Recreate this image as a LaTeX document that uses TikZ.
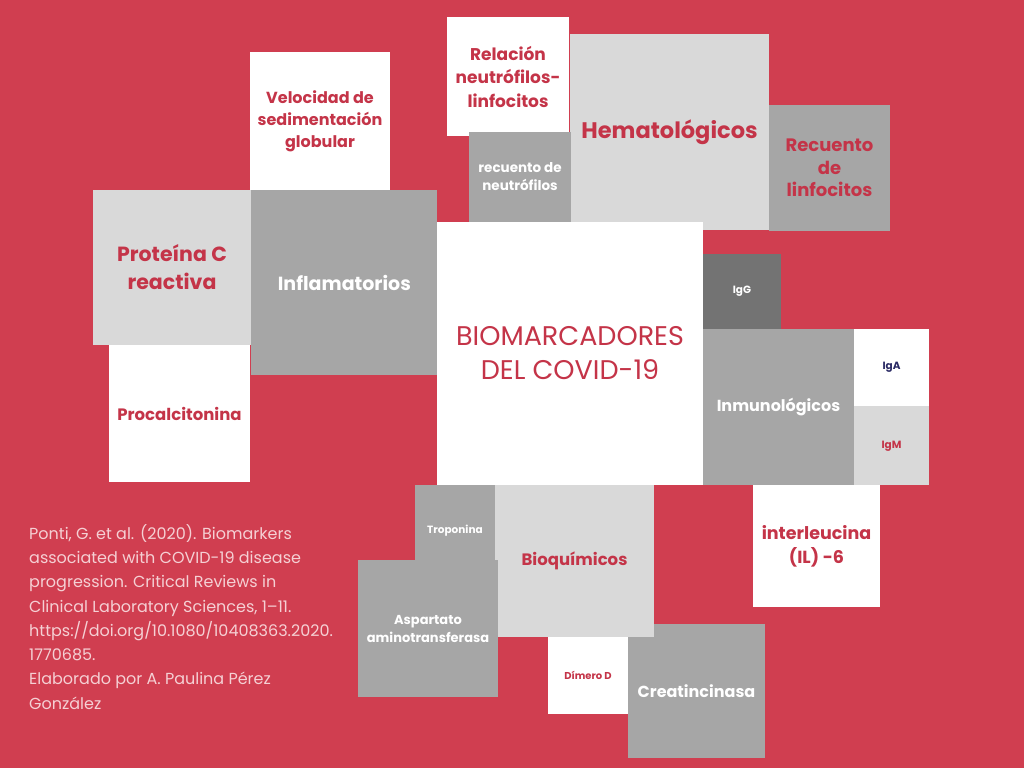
\documentclass[tikz,border=0pt]{standalone}
\usepackage{fontspec}
\setmainfont{Poppins}
\definecolor{bgred}{RGB}{208, 62, 80}
\definecolor{txtred}{RGB}{196, 52, 72}
\definecolor{tilelight}{RGB}{217, 217, 217}
\definecolor{tilemid}{RGB}{166, 166, 166}
\definecolor{tiledark}{RGB}{115, 115, 115}
\definecolor{navy}{RGB}{42, 42, 100}
\definecolor{notepink}{RGB}{245, 208, 212}
\usetikzlibrary{positioning}
\newcommand{\fsz}[2]{\fontsize{#1}{#2}\selectfont}
\tikzset{
	tile/.style={rectangle, inner sep=0pt, align=center},
	whitetile/.style={tile, fill=white, text=txtred},
	lighttile/.style={tile, fill=tilelight, text=txtred},
	midtile/.style={tile, fill=tilemid, text=white},
	darktile/.style={tile, fill=tiledark, text=white},
}

\begin{document}
\begin{tikzpicture}[x=1pt, y=-1pt]
		\useasboundingbox[fill=bgred] (0,0) rectangle (1024,768);
		% inflamatorios
		\node[whitetile, minimum width=140pt, minimum height=138pt, font=\bfseries\fsz{16}{22}] (velocidad) at (320,121) {Velocidad de\\sedimentación\\globular};
		\node[lighttile, minimum width=158pt, minimum height=155pt, font=\bfseries\fsz{20.5}{28}] (proteina) at (172,267.5) {Proteína C\\reactiva};
		\node[midtile, minimum width=186pt, minimum height=185pt, font=\bfseries\fsz{19}{22}, below right=0pt and 0pt of proteina.north east] (inflam) {Inflamatorios};
		\node[whitetile, minimum width=141pt, minimum height=137pt, font=\bfseries\fsz{16.5}{20}] (procal) at (179.5,413.5) {Procalcitonina};
		% hematologicos
		\node[whitetile, minimum width=122pt, minimum height=119pt, font=\bfseries\fsz{17}{23.5}] (relacion) at (508,76.5) {Relación\\neutrófilos-\\linfocitos};
		\node[lighttile, minimum width=199pt, minimum height=196pt, font=\bfseries\fsz{22.5}{26}] (hemato) at (669.5,132) {Hematológicos};
		\node[midtile, minimum width=102pt, minimum height=90pt, font=\bfseries\fsz{13.5}{18}] (neutro) at (520,177) {recuento de\\neutrófilos};
		\node[midtile, text=txtred, minimum width=121pt, minimum height=126pt, font=\bfseries\fsz{18}{22.5}] (linfo) at (829.5,168) {Recuento\\de\\linfocitos};
		% centro
		\node[whitetile, minimum width=266pt, minimum height=263pt, font=\fsz{27}{34}] (centro) at (570,353.5) {BIOMARCADORES\\DEL COVID-19};
		% inmunologicos
		\node[darktile, minimum width=78pt, minimum height=75pt, font=\bfseries\fsz{10.5}{12}] (igg) at (742,291.5) {IgG};
		\node[midtile, minimum width=151pt, minimum height=156pt, font=\bfseries\fsz{16}{20}] (inmuno) at (778.5,407) {Inmunológicos};
		\node[whitetile, text=navy, minimum width=75pt, minimum height=77pt, font=\bfseries\fsz{10.5}{12}] (iga) at (891.5,367.5) {IgA};
		\node[lighttile, minimum width=75pt, minimum height=79pt, font=\bfseries\fsz{10.5}{12}, below=0pt of iga] (igm) {IgM};
		\node[whitetile, minimum width=127pt, minimum height=122pt, font=\bfseries\fsz{17.5}{24}] (interleucina) at (816.5,546) {interleucina\\(IL) -6};
		% bioquimicos
		\node[midtile, minimum width=137pt, minimum height=134pt, font=\bfseries\fsz{16}{20}] (creatin) at (696.5,691) {Creatincinasa};
		\node[midtile, minimum width=80pt, minimum height=92pt, font=\bfseries\fsz{10.5}{12}] (troponina) at (455,531) {Troponina};
		\node[lighttile, minimum width=159pt, minimum height=152pt, font=\bfseries\fsz{16.5}{20}] (bioq) at (574.5,561) {Bioquímicos};
		\node[midtile, minimum width=140pt, minimum height=137pt, font=\bfseries\fsz{13}{18}] (aspartato) at (428,628.5) {Aspartato\\aminotransferasa};
		\node[whitetile, minimum width=80pt, minimum height=77pt, font=\bfseries\fsz{10}{12}] (dimero) at (588,675.5) {Dímero D};
		% referencia
		\node[anchor=north west, inner sep=0pt, align=left, text=notepink, font=\fsz{16}{24.3}] (cita) at (29,524) {Ponti, G. et al. (2020). Biomarkers\\associated with COVID-19 disease\\progression. Critical Reviews in\\Clinical Laboratory Sciences, 1--11.\\https://doi.org/10.1080/10408363.2020.\\1770685.\\Elaborado por A. Paulina Pérez\\González};
	\end{tikzpicture}
\end{document}
